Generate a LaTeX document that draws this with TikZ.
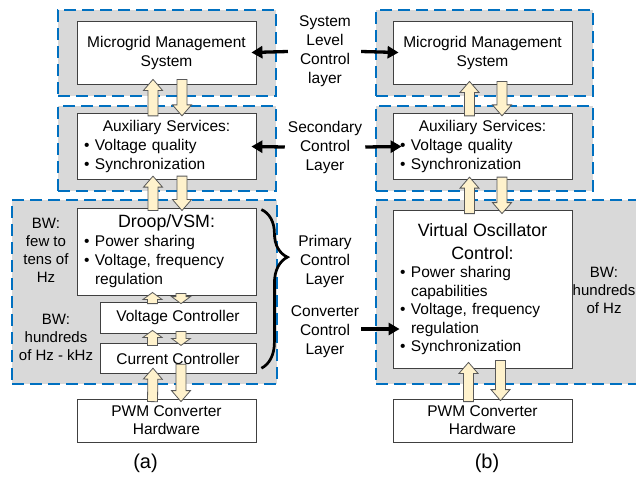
\documentclass[tikz,border=0pt]{standalone}
\usepackage{fontspec}
\setmainfont{Liberation Sans}
\usetikzlibrary{arrows.meta, calc, positioning, decorations.pathreplacing}
\setlength{\parindent}{0pt}

\definecolor{dashblue}{RGB}{0,112,192}
\definecolor{panelgray}{RGB}{217,217,217}
\definecolor{cream}{RGB}{255,242,204}
\definecolor{arrowedge}{RGB}{89,89,89}
\definecolor{boxedge}{RGB}{64,64,64}

\newcommand{\fathl}{11pt}
\newcommand{\bul}{\makebox[11pt][l]{\textbullet}}
\newcommand{\txt}{\fontsize{15.5}{19}\selectfont}
\newcommand{\ttl}{\fontsize{17.8}{23}\selectfont}
\newcommand{\bwtxt}{\fontsize{15}{18}\selectfont}

\tikzset{
  panel/.style={draw=dashblue, fill=panelgray, line width=2.2pt, dash pattern=on 12pt off 6pt, inner sep=0pt},
  box/.style={draw=boxedge, fill=white, line width=0.8pt, minimum width=179pt, font=\txt, align=center, inner sep=7pt},
  lst/.style={box, text width=165pt, align=left},
  fat/.style={draw=arrowedge, fill=cream, line width=0.8pt, to path={
      ($(\tikztostart)!5pt!90:(\tikztotarget)$)
      -- ($(\tikztotarget)!\fathl!(\tikztostart)!5pt!90:(\tikztotarget)$)
      -- ($(\tikztotarget)!\fathl!(\tikztostart)!9.5pt!90:(\tikztotarget)$)
      -- (\tikztotarget)
      -- ($(\tikztotarget)!\fathl!(\tikztostart)!9.5pt!-90:(\tikztotarget)$)
      -- ($(\tikztotarget)!\fathl!(\tikztostart)!5pt!-90:(\tikztotarget)$)
      -- ($(\tikztostart)!5pt!-90:(\tikztotarget)$)
      -- cycle}},
  small/.style={/utils/exec=\def\fathl{7pt}},
  blk/.style={-{Triangle[width=12pt,length=11pt]}, line width=3.3pt},
  lbl/.style={font=\txt, align=center, inner sep=0pt},
  bw/.style={font=\bwtxt, align=center, inner sep=0pt},
  brc/.style={decorate, decoration={brace, amplitude=26pt, aspect=0.3}, line width=2.7pt},
}

\begin{document}
\begin{tikzpicture}[x=1pt, y=-1pt]
    \useasboundingbox (0,0) rectangle (636,477);

    % Panels
    \node[panel, minimum width=218pt, minimum height=86pt] (grp1a) at (167,53) {};
    \node[panel, minimum width=218pt, minimum height=85pt] (grp2a) at (167,148.5) {};
    \node[panel, minimum width=265pt, minimum height=184pt] (grp3a) at (144.5,292) {};
    \node[panel, minimum width=217pt, minimum height=86pt] (grp1b) at (484.5,53) {};
    \node[panel, minimum width=217pt, minimum height=85pt] (grp2b) at (484.5,148.5) {};
    \node[panel, minimum width=274pt, minimum height=184pt] (grp3b) at (513,292) {};

    % Left column (a)
    \node[box, minimum height=63pt] (mmsa) at (166.5,52.5) {Microgrid Management\\System};
    \node[lst, minimum height=63pt] (auxa) at (166.5,146.5) {{\centering Auxiliary Services:\par}
        \bul Voltage quality\par
        \bul Synchronization\par\vspace{-5pt}};
    \node[lst, minimum height=81pt] (droop) at (166.5,251.5) {{\centering\ttl Droop/VSM:\par}
        \bul Power sharing\par
        \bul Voltage, frequency\par
        \hspace*{11pt}regulation\par\vspace{-6pt}};
    \node[box, minimum width=156pt, minimum height=31pt] (vc) at (178,317.5) {Voltage Controller};
    \node[box, minimum width=156pt, minimum height=30pt, below=10pt of vc] (cc) {Current Controller};
    \node[box, minimum height=39pt, font=\fontsize{15.5}{18}\selectfont] (pwma) at (166.5,420.5) {PWM Converter\\Hardware};

    % Right column (b)
    \node[box, minimum height=63pt] (mmsb) at (482.5,52.5) {Microgrid Management\\System};
    \node[lst, minimum height=63pt] (auxb) at (482.5,146.5) {{\centering Auxiliary Services:\par}
        \bul Voltage quality\par
        \bul Synchronization\par\vspace{-5pt}};
    \node[lst, minimum height=158pt, font=\fontsize{15.5}{18.5}\selectfont] (voc) at (482.5,289) {{\centering\ttl Virtual Oscillator\par Control:\par}
        \bul Power sharing\par
        \hspace*{11pt}capabilities\par
        \bul Voltage, frequency\par
        \hspace*{11pt}regulation\par
        \bul Synchronization\par\vspace{-4pt}};
    \node[box, minimum height=39pt, font=\fontsize{15.5}{18}\selectfont] (pwmb) at (482.5,420.5) {PWM Converter\\Hardware};

    % Fat arrows, left
    \draw[fat] ([xshift=-13.5pt,yshift=-3pt]auxa.north) to ([xshift=-13.5pt,yshift=5pt]mmsa.south);
    \draw[fat] ([xshift=15.5pt,yshift=5pt]mmsa.south) to ([xshift=15.5pt,yshift=-3pt]auxa.north);
    \draw[fat] ([xshift=-13.5pt,yshift=-3pt]droop.north) to ([xshift=-13.5pt,yshift=4pt]auxa.south);
    \draw[fat] ([xshift=15.5pt,yshift=4pt]auxa.south) to ([xshift=15.5pt,yshift=-3pt]droop.north);
    \draw[fat, small] ([xshift=-25.5pt,yshift=-2pt]vc.north) to ([xshift=-14pt,yshift=3pt]droop.south);
    \draw[fat, small] ([xshift=14.5pt,yshift=2pt]droop.south) to ([xshift=3pt,yshift=-2pt]vc.north);
    \draw[fat, small] ([xshift=-25.5pt,yshift=-2pt]cc.north) to ([xshift=-25.5pt,yshift=3pt]vc.south);
    \draw[fat, small] ([xshift=3pt,yshift=2pt]vc.south) to ([xshift=3pt,yshift=-2pt]cc.north);
    \draw[fat] ([xshift=-14pt,yshift=-3pt]pwma.north) to ([xshift=-25pt,yshift=6pt]cc.south);
    \draw[fat] ([xshift=3pt,yshift=10pt]cc.south) to ([xshift=14.5pt,yshift=-3pt]pwma.north);

    % Fat arrows, right
    \draw[fat] ([xshift=-13pt,yshift=-3pt]auxb.north) to ([xshift=-13pt,yshift=3pt]mmsb.south);
    \draw[fat] ([xshift=19.5pt,yshift=3pt]mmsb.south) to ([xshift=19.5pt,yshift=-3pt]auxb.north);
    \draw[fat] ([xshift=-13pt,yshift=-4pt]voc.north) to ([xshift=-13pt,yshift=3pt]auxb.south);
    \draw[fat] ([xshift=19.5pt,yshift=3pt]auxb.south) to ([xshift=19.5pt,yshift=-4pt]voc.north);
    \draw[fat] ([xshift=-14pt,yshift=-3pt]pwmb.north) to ([xshift=-14pt,yshift=6pt]voc.south);
    \draw[fat] ([xshift=18pt,yshift=8pt]voc.south) to ([xshift=18pt,yshift=-2pt]pwmb.north);

    % Layer labels
    \node[lbl] (sys) at (325,51.5) {System\\Level\\Control\\layer};
    \node[lbl] (sec) at (325,147) {Secondary\\Control\\Layer};
    \node[lbl] (prim) at (325,261) {Primary\\Control\\Layer};
    \node[lbl] (conv) at (325,332) {Converter\\Control\\Layer};

    \draw[blk] ([xshift=-11pt]sys.west) -- ([xshift=-5pt]mmsa.east);
    \draw[blk] ([xshift=10pt]sys.east) -- ([xshift=6pt]mmsb.west);
    \draw[blk] ([xshift=-3pt]sec.west) -- ([xshift=-5pt]auxa.east);
    \draw[blk] ([xshift=3pt]sec.east) -- ([xshift=9pt]auxb.west);
    \draw[blk] ([xshift=2pt,yshift=3pt]conv.east) -- ([xshift=7pt,yshift=3pt]conv.east -| voc.west);

    % Brace over the inner loops
    \draw[brc] ([xshift=5pt,yshift=-2pt]droop.north east) -- ([xshift=5pt,yshift=6pt]cc.south east);

    % Bandwidth notes
    \node[bw] (bwdroop) at (46,250) {BW:\\few to\\tens of\\Hz};
    \node[bw] (bwinner) at (56,337) {BW:\\hundreds\\of Hz - kHz};
    \node[bw] (bwvoc) at (604,290) {BW:\\hundreds\\of Hz};

    % Captions
    \node[font=\fontsize{20}{24}\selectfont] (capa) at (145.5,463) {(a)};
    \node[font=\fontsize{20}{24}\selectfont] (capb) at (487,463) {(b)};
\end{tikzpicture}
\end{document}
